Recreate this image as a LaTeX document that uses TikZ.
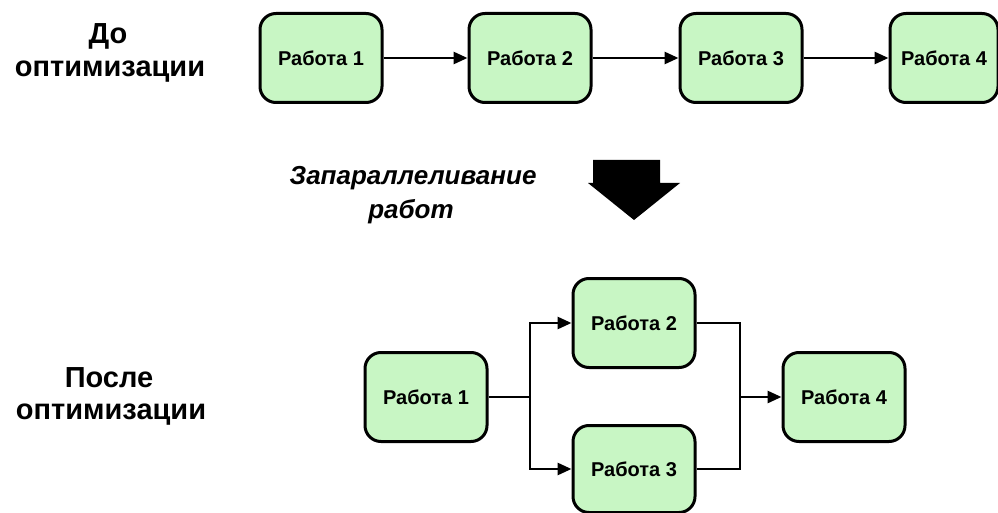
\documentclass[tikz,border=0pt]{standalone}
\usepackage{fontspec}
\setmainfont{Liberation Sans}
\usetikzlibrary{arrows.meta}
\definecolor{boxgreen}{RGB}{200,246,196}
\tikzset{
  job/.style={draw=black, line width=3pt, fill=boxgreen, rounded corners=16pt,
    minimum width=122pt, minimum height=89pt, inner sep=0pt,
    font=\fontsize{20}{23}\selectfont\bfseries},
  conn/.style={line width=2.8pt, -{Triangle[length=14pt,width=12pt]}},
  plain/.style={line width=2.8pt},
  lbl/.style={inner sep=0pt, font=\fontsize{29}{33}\selectfont\bfseries},
  ilbl/.style={inner sep=0pt, font=\fontsize{26}{30}\selectfont\bfseries\itshape}
}
\begin{document}
\begin{tikzpicture}[x=1pt,y=-1pt]
\useasboundingbox (0,0) rectangle (998,513);
% labels
\node[lbl] (do) at (108,36) {До};
\node[lbl] (opt1) at (110,72) {оптимизации};
\node[lbl] (posle) at (109,378) {После};
\node[lbl] (opt2) at (111,415) {оптимизации};
\node[ilbl] (zap) at (413,178) {Запараллеливание};
\node[ilbl] (rab) at (411,212) {работ};
% top row
\node[job] (a1) at (321,58) {Работа 1};
\node[job] (a2) at (530,58) {Работа 2};
\node[job] (a3) at (741,58) {Работа 3};
\node[job, minimum width=108pt] (a4) at (944,58) {Работа 4};
\draw[conn] (a1) -- (a2);
\draw[conn] (a2) -- (a3);
\draw[conn] (a3) -- (a4);
% big arrow
\fill[black] (593,160) -- (660,160) -- (660,183) -- (680,183) -- (634,220) -- (588,183) -- (593,183) -- cycle;
% bottom
\node[job] (b1) at (426,397) {Работа 1};
\node[job] (b2) at (634,323) {Работа 2};
\node[job, minimum height=87pt] (b3) at (634,469) {Работа 3};
\node[job] (b4) at (844,397) {Работа 4};
\coordinate (s1) at (530,397);
\coordinate (s2) at (740,397);
\draw[plain] (b1.east) -- (s1);
\draw[conn] (s1) |- (b2.west);
\draw[conn] (s1) |- (b3.west);
\draw[plain] (b2.east) -| (s2);
\draw[plain] (b3.east) -| (s2);
\draw[conn] (s2) -- (b4.west);
\end{tikzpicture}
\end{document}
